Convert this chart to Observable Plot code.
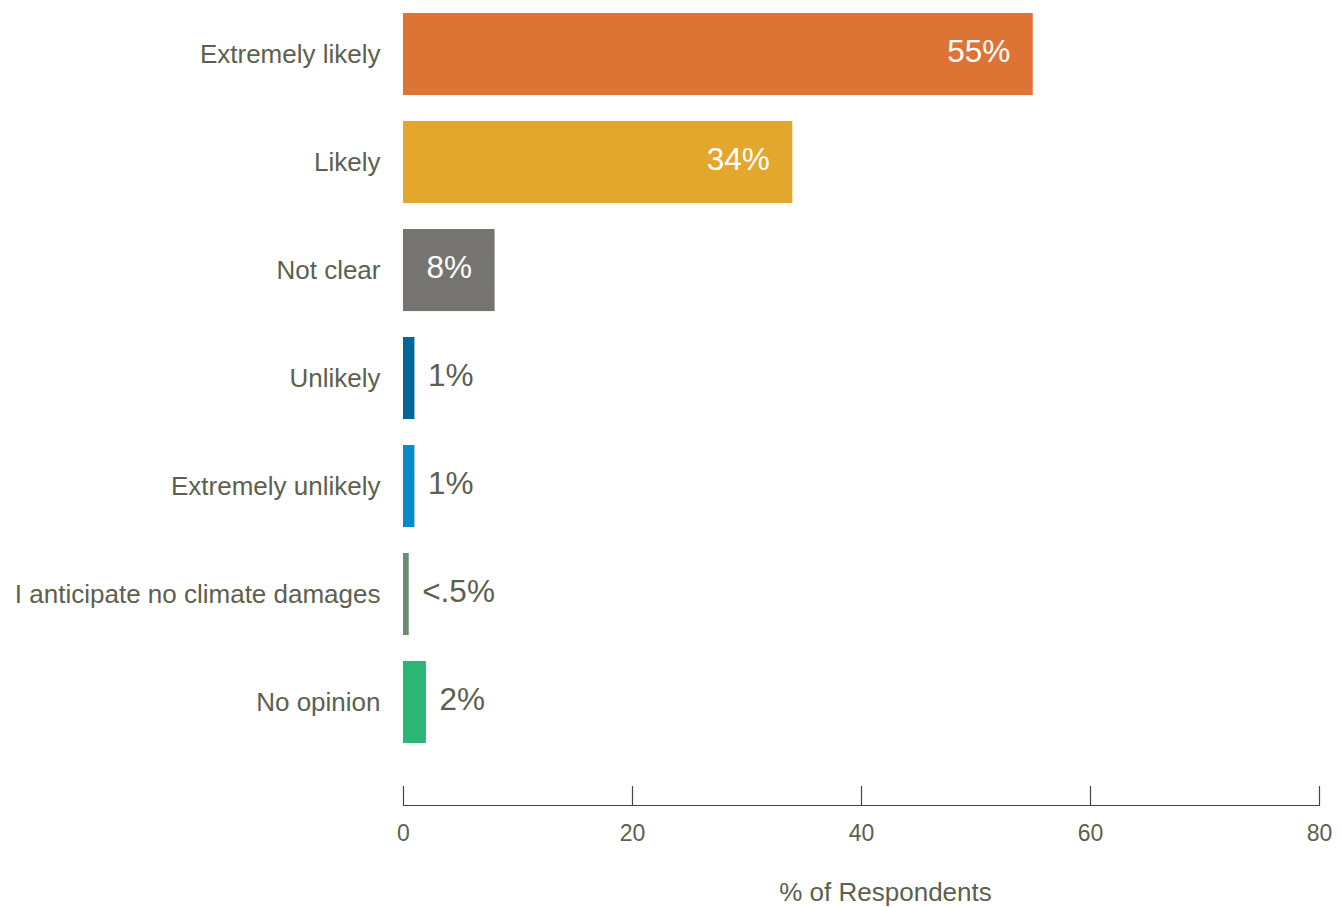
<!DOCTYPE html>
<html>
<head>
<meta charset="utf-8">
<script src="https://cdn.jsdelivr.net/npm/d3@7"></script>
<script src="https://cdn.jsdelivr.net/npm/@observablehq/plot@0.6"></script>
<style>
  html, body { margin: 0; padding: 0; background: #fff; }
</style>
</head>
<body>
<div id="chart"></div>
<script>
const categories = ["Extremely likely", "Likely", "Not clear", "Unlikely", "Extremely unlikely", "I anticipate no climate damages", "No opinion"];
const values = [55, 34, 8, 1, 1, 0.5, 2];
const valueLabels = ["55%", "34%", "8%", "1%", "1%", "<.5%", "2%"];
const colors = ["#dd7435", "#e2a72c", "#767470", "#006896", "#0a8aca", "#6a8c73", "#2bb673"];
const insideLabel = [true, true, true, false, false, false, false];
const xTicks = [0, 20, 40, 60, 80];
const xTitle = "% of Respondents";

const textColor = "#5c614d";
const data = categories.map((c, i) => ({
  category: c, value: values[i], label: valueLabels[i], color: colors[i], inside: insideLabel[i]
}));

const chart = Plot.plot({
  width: 1341,
  height: 907,
  marginLeft: 403,
  marginRight: 22,
  marginTop: 13,
  marginBottom: 102,
  style: { fontFamily: "'Liberation Sans', Arial, sans-serif", background: "#fff" },
  x: { domain: [0, 80], ticks: xTicks, label: null },
  y: { domain: categories, paddingInner: 0.24, paddingOuter: 0.2867, align: 0, round: false, label: null },
  color: { type: "identity" },
  marks: [
    Plot.barX(data, { y: "category", x: "value", fill: "color" }),
    Plot.text(data.filter(d => d.inside), {
      y: "category", x: "value", text: "label", textAnchor: "end", dx: -23, dy: -3,
      fill: "#fff", fontSize: 31.5
    }),
    Plot.text(data.filter(d => !d.inside), {
      y: "category", x: "value", text: "label", textAnchor: "start", dx: 13, dy: -3,
      fill: textColor, fontSize: 31.5
    }),
    Plot.axisY({ tickSize: 0, tickPadding: 23, fontSize: 26, fill: textColor, label: null }),
    Plot.axisX({ ticks: xTicks, tickSize: 0, tickPadding: 19, fontSize: 23, fill: textColor, label: null }),
    Plot.tickX(xTicks, { x: d => d, insetTop: 773, stroke: "#444", strokeWidth: 1.2 }),
    Plot.frame({ anchor: "bottom", stroke: "#444", strokeWidth: 1.2 }),
    Plot.text([xTitle], { frameAnchor: "bottom", dx: 24, dy: 95, fontSize: 26, fill: textColor })
  ]
});
document.getElementById("chart").appendChild(chart);
</script>
</body>
</html>
